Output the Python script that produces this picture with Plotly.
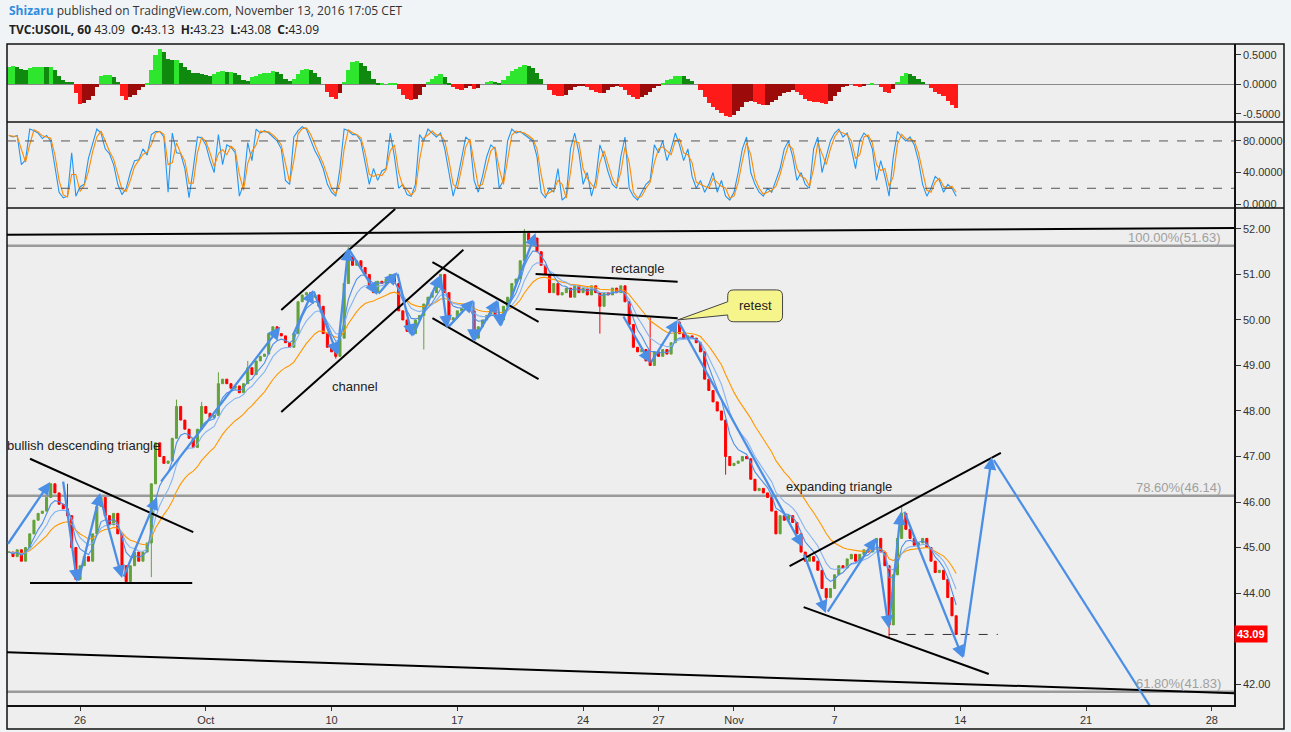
import pandas as pd
import plotly.graph_objects as go

# x axis is in trading days counted from Mon Sep 26 (weekends skipped), 4h bars
bar_start = -17 / 6
bar_step = 1 / 6

close = [
    44.90, 44.80, 44.95, 44.70, 45.00, 45.30, 45.60, 45.75, 45.80, 46.10,
    46.40, 46.20, 45.95, 45.85, 45.70, 45.00, 44.30, 44.60, 44.80, 44.70,
    45.30, 45.90, 46.10, 45.70, 45.50, 45.75, 45.30, 44.60, 44.25, 44.60,
    44.90, 44.70, 44.90, 45.10, 46.40, 47.30, 47.00, 46.85, 46.90, 47.40,
    48.10, 47.80, 47.60, 47.40, 47.20, 47.60, 48.10, 47.95, 47.85, 47.90,
    48.60, 48.70, 48.60, 48.50, 48.55, 48.40, 48.60, 48.95, 48.80, 49.10,
    49.20, 49.25, 49.70, 49.85, 49.70, 49.65, 49.50, 49.40, 49.70, 50.40,
    50.55, 50.60, 50.50, 50.55, 50.30, 49.70, 49.40, 49.30, 49.20, 49.60,
    50.80, 51.40, 51.20, 51.30, 51.15, 51.00, 50.70, 50.60, 50.85, 50.80,
    50.90, 51.00, 50.80, 50.20, 50.00, 49.75, 49.70, 50.00, 50.10, 50.35,
    50.50, 50.60, 50.80, 51.00, 50.60, 50.00, 50.05, 50.20, 50.25, 50.30,
    50.20, 49.60, 49.85, 50.00, 50.10, 50.25, 50.10, 50.00, 50.30, 50.50,
    50.80, 50.90, 51.30, 51.90, 51.75, 51.80, 51.50, 51.20, 51.00, 50.60,
    50.80, 50.55, 50.60, 50.70, 50.50, 50.75, 50.60, 50.70, 50.55, 50.75,
    50.60, 50.30, 50.60, 50.55, 50.70, 50.60, 50.75, 50.40, 49.90, 49.40,
    49.30, 49.35, 49.10, 49.00, 49.30, 49.20, 49.35, 49.25, 49.50, 49.95,
    49.70, 49.60, 49.65, 49.60, 49.50, 49.30, 48.70, 48.45, 48.20, 48.00,
    47.80, 47.00, 46.80, 46.85, 46.90, 47.00, 46.95, 46.50, 46.25, 46.30,
    46.20, 46.10, 45.80, 45.30, 45.70, 45.60, 45.70, 45.55, 45.30, 44.90,
    44.70, 44.80, 44.70, 44.50, 44.10, 43.90, 44.10, 44.40, 44.60, 44.55,
    44.75, 44.85, 44.70, 44.85, 44.95, 44.90, 45.10, 45.20, 44.90, 44.60,
    43.30, 44.40, 45.20, 45.75, 45.40, 45.20, 45.05, 45.10, 45.20, 45.00,
    44.70, 44.45, 44.50, 44.30, 43.90, 43.50, 43.09,
]

# visible wick extremes of single bars (bar index -> price)
wick_high = {14: 46.40, 40: 48.25, 46: 48.20, 50: 48.85, 57: 49.10, 81: 51.60,
             123: 52.00, 153: 50.05, 213: 45.90}
wick_low = {34: 44.35, 78: 49.15, 99: 49.35, 141: 49.70, 171: 46.60, 195: 43.80, 210: 43.00}

macd_hist = [
    0.30, 0.31, 0.30, 0.27, 0.25, 0.28, 0.30, 0.30, 0.30, 0.29,
    0.30, 0.24, 0.15, 0.08, 0.05, 0.04, -0.15, -0.33, -0.31, -0.27,
    -0.20, -0.05, 0.15, 0.16, 0.16, 0.13, 0.05, -0.20, -0.27, -0.22,
    -0.17, -0.10, -0.04, 0.02, 0.25, 0.50, 0.60, 0.55, 0.43, 0.41,
    0.42, 0.36, 0.30, 0.24, 0.20, 0.19, 0.18, 0.16, 0.15, 0.18,
    0.21, 0.22, 0.21, 0.21, 0.20, 0.16, 0.07, 0.06, 0.12, 0.15,
    0.18, 0.19, 0.20, 0.22, 0.21, 0.17, 0.10, 0.06, 0.10, 0.18,
    0.24, 0.27, 0.24, 0.20, 0.12, 0.00, -0.12, -0.22, -0.25, -0.15,
    0.05, 0.25, 0.38, 0.40, 0.37, 0.32, 0.22, 0.10, 0.01, 0.01,
    0.00, 0.01, 0.01, -0.08, -0.18, -0.25, -0.27, -0.24, -0.17, -0.05,
    0.05, 0.10, 0.15, 0.18, 0.12, 0.02, -0.05, -0.08, -0.10, -0.06,
    -0.03, -0.08, -0.06, 0.00, 0.04, 0.06, 0.04, 0.03, 0.08, 0.15,
    0.22, 0.27, 0.30, 0.33, 0.32, 0.28, 0.20, 0.10, 0.00, -0.10,
    -0.17, -0.20, -0.20, -0.17, -0.10, -0.05, -0.03, -0.02, -0.05, -0.10,
    -0.12, -0.15, -0.14, -0.10, -0.05, -0.03, -0.05, -0.10, -0.18, -0.22,
    -0.24, -0.22, -0.18, -0.12, -0.06, -0.02, 0.03, 0.07, 0.10, 0.14,
    0.15, 0.14, 0.10, 0.06, 0.00, -0.10, -0.22, -0.32, -0.38, -0.43,
    -0.48, -0.53, -0.55, -0.52, -0.45, -0.38, -0.30, -0.28, -0.30, -0.33,
    -0.35, -0.34, -0.30, -0.26, -0.20, -0.15, -0.12, -0.10, -0.12, -0.18,
    -0.24, -0.28, -0.30, -0.30, -0.32, -0.33, -0.28, -0.20, -0.12, -0.05,
    -0.02, 0.00, -0.02, -0.04, -0.02, 0.00, 0.02, 0.00, -0.05, -0.12,
    -0.15, -0.08, 0.05, 0.15, 0.20, 0.18, 0.15, 0.10, 0.05, 0.00,
    -0.06, -0.12, -0.16, -0.20, -0.28, -0.35, -0.40,
]

stoch_k = [
    87, 85, 87, 50, 56, 95, 93, 90, 83, 87,
    80, 45, 15, 8, 10, 65, 10, 22, 25, 58,
    75, 95, 90, 70, 64, 50, 25, 12, 20, 40,
    55, 56, 70, 62, 88, 92, 92, 85, 15, 90,
    65, 64, 45, 8, 45, 85, 84, 75, 55, 40,
    88, 50, 75, 72, 65, 10, 25, 78, 55, 95,
    90, 93, 90, 85, 80, 70, 30, 25, 85, 93,
    98, 95, 82, 68, 58, 45, 25, 15, 10, 45,
    95, 93, 88, 88, 80, 50, 25, 45, 30, 42,
    45, 90, 60, 20, 25, 12, 10, 25, 88, 80,
    95, 90, 85, 90, 70, 40, 10, 30, 60, 85,
    80, 30, 15, 35, 60, 75, 70, 20, 30, 80,
    95, 90, 92, 88, 85, 80, 60, 15, 8, 20,
    15, 45, 5, 10, 70, 90, 65, 25, 40, 10,
    30, 75, 60, 40, 25, 20, 60, 85, 20, 10,
    5, 15, 25, 30, 75, 65, 80, 55, 70, 90,
    75, 55, 70, 35, 20, 30, 15, 25, 40, 15,
    30, 10, 5, 15, 40, 70, 85, 40, 25, 15,
    10, 20, 15, 30, 45, 70, 80, 60, 30, 40,
    25, 20, 70, 85, 40, 60, 80, 90, 95, 85,
    90, 70, 45, 80, 90, 85, 70, 30, 55, 35,
    10, 60, 92, 85, 80, 85, 75, 55, 25, 10,
    20, 35, 30, 15, 25, 20, 10,
]

x_ticks = [0, 5, 10, 15, 20, 23, 26, 30, 35, 40, 45]
x_labels = ["26", "Oct", "10", "17", "24", "27", "Nov", "7", "14", "21", "28"]
price_ticks = [42, 44, 45, 46, 47, 48, 49, 50, 51, 52]   # 43.00 hidden behind last-price tag

fib_levels = [51.63, 46.14, 41.83]
fib_labels = ["100.00%(51.63)", "78.60%(46.14)", "61.80%(41.83)"]

# author drawings: (day0, price0, day1, price1)
trend_lines = [
    (-2.905, 51.87, 45.92, 52.02),
    (-2.905, 42.70, 45.92, 41.80),
    (-1.99, 46.95, 4.50, 45.34),
    (-1.99, 44.22, 4.46, 44.22),
    (8.00, 50.22, 12.53, 52.44),
    (8.00, 47.98, 15.24, 51.54),
    (14.01, 51.27, 18.23, 49.96),
    (14.01, 50.04, 18.23, 48.70),
    (18.11, 51.01, 23.76, 50.84),
    (18.11, 50.24, 23.76, 50.04),
    (28.21, 44.59, 36.61, 47.08),
    (28.77, 43.69, 36.13, 42.22),
]

arrows = [
    (-2.905, 45.05, -1.19, 46.44),
    (-0.68, 46.48, -0.12, 44.24),
    (-0.08, 44.24, 0.80, 46.20),
    (0.80, 46.11, 1.67, 44.33),
    (1.71, 44.33, 3.06, 46.11),
    (3.18, 46.42, 7.96, 49.85),
    (8.44, 49.63, 9.27, 50.66),
    (9.27, 50.66, 10.23, 49.23),
    (10.23, 49.23, 10.66, 51.58),
    (10.66, 51.58, 11.82, 50.55),
    (11.82, 50.55, 12.61, 51.05),
    (12.61, 51.05, 13.21, 49.63),
    (13.21, 49.63, 14.33, 50.99),
    (14.33, 50.99, 14.60, 49.82),
    (14.60, 49.82, 15.64, 50.44),
    (15.64, 50.44, 15.64, 49.52),
    (15.64, 49.52, 16.59, 50.44),
    (16.59, 50.44, 16.71, 49.85),
    (16.71, 49.85, 18.11, 51.91),
    (21.57, 50.11, 22.68, 49.05),
    (22.68, 49.05, 23.76, 50.00),
    (23.76, 50.00, 28.73, 45.01),
    (28.77, 44.88, 29.65, 43.56),
    (29.69, 43.56, 31.64, 45.21),
    (31.64, 45.21, 32.15, 43.23),
    (32.15, 43.23, 32.63, 45.78),
    (32.75, 45.82, 35.10, 42.57),
    (35.10, 42.57, 36.25, 46.99),
]
projection = (36.33, 46.92, 42.89, 41.21)

labels = [
    ("bullish descending triangle", -2.88, 47.25, "left"),
    ("channel", 10.94, 48.53, "center"),
    ("rectangle", 22.17, 51.14, "center"),
    ("expanding triangle", 30.16, 46.35, "center"),
]

last_price = 43.09
last_line = (32.15, 36.49)

# ---------------------------------------------------------------
ARROW = "#4a8ee6"
UP, DOWN = "#63a23a", "#ff0000"
FONT = "Liberation Sans, Arial, sans-serif"

xs = [bar_start + i * bar_step for i in range(len(close))]
opens = [close[0]] + close[:-1]
highs = [max(o, c, wick_high.get(i, 0)) for i, (o, c) in enumerate(zip(opens, close))]
lows = [min(o, c, wick_low.get(i, 99)) for i, (o, c) in enumerate(zip(opens, close))]

s = pd.Series(close)
ma_fast = s.ewm(span=5, adjust=False).mean()
ma_mid = s.ewm(span=9, adjust=False).mean()
ma_slow = s.ewm(span=18, adjust=False).mean()
stoch_d = pd.Series(stoch_k).rolling(2, min_periods=1).mean()

hist_colors = []
for i, v in enumerate(macd_hist):
    prev = macd_hist[i - 1] if i else v
    if v >= 0:
        hist_colors.append("#2ee62e" if v >= prev else "#0f8a0f")
    else:
        hist_colors.append("#ff1a1a" if v <= prev else "#9c0a0a")

fig = go.Figure()

fig.add_trace(go.Bar(
    x=xs, y=macd_hist, width=bar_step, marker=dict(color=hist_colors, line_width=0),
    xaxis="x3", yaxis="y3", hoverinfo="skip",
))

fig.add_trace(go.Scatter(x=xs, y=stoch_k, mode="lines", line=dict(color="#2196f3", width=1.1),
                         xaxis="x2", yaxis="y2", hoverinfo="skip"))
fig.add_trace(go.Scatter(x=xs, y=stoch_d, mode="lines", line=dict(color="#ff8a00", width=1.1),
                         xaxis="x2", yaxis="y2", hoverinfo="skip"))

fig.add_trace(go.Candlestick(
    x=xs, open=opens, high=highs, low=lows, close=close,
    increasing=dict(line=dict(color=UP, width=1), fillcolor=UP),
    decreasing=dict(line=dict(color=DOWN, width=1), fillcolor=DOWN),
    whiskerwidth=0, hoverinfo="skip",
))
fig.add_trace(go.Scatter(x=xs, y=ma_slow, mode="lines", line=dict(color="#ff9800", width=1.1), hoverinfo="skip"))
fig.add_trace(go.Scatter(x=xs, y=ma_mid, mode="lines", line=dict(color="#84b4f2", width=1.1), hoverinfo="skip"))
fig.add_trace(go.Scatter(x=xs, y=ma_fast, mode="lines", line=dict(color="#4d8ee8", width=1.1), hoverinfo="skip"))

shapes = []
Y0, X1 = -24 / 661, 1277 / 1227
# panel background + outer frame
shapes.append(dict(type="rect", xref="paper", yref="paper", x0=0, x1=X1, y0=Y0, y1=1,
                   fillcolor="#eeeeee", line_width=0, layer="below"))
shapes.append(dict(type="rect", xref="paper", yref="paper", x0=0, x1=X1, y0=Y0, y1=1,
                   line=dict(color="#111", width=1.5)))
for yy in (497 / 661, 583 / 661):
    shapes.append(dict(type="line", xref="paper", yref="paper", x0=0, x1=X1, y0=yy, y1=yy,
                       line=dict(color="#111", width=1.5)))

for lvl in (80, 20):
    shapes.append(dict(type="line", xref="paper", yref="y2", x0=0, x1=1, y0=lvl, y1=lvl,
                       line=dict(color="#555", width=1, dash="dash")))

for lvl in fib_levels:
    shapes.append(dict(type="line", xref="paper", yref="y", x0=0, x1=1, y0=lvl, y1=lvl,
                       line=dict(color="#9a9a9a", width=2.5), layer="below"))

for d0, p0, d1, p1 in trend_lines:
    shapes.append(dict(type="line", xref="x", yref="y", x0=d0, y0=p0, x1=d1, y1=p1,
                       line=dict(color="#000", width=2)))

d0, p0, d1, p1 = projection
shapes.append(dict(type="line", xref="x", yref="y", x0=d0, y0=p0, x1=d1, y1=p1,
                   line=dict(color=ARROW, width=2.2)))

shapes.append(dict(type="line", xref="x", yref="y", x0=last_line[0], x1=last_line[1],
                   y0=last_price, y1=last_price, line=dict(color="#333", width=1, dash="dash")))

# "retest" callout bubble
bx0, bx1, byt, byb = 25.75, 27.93, 50.66, 49.96
rx, ry = 0.24, 0.13
tip = (23.76, 50.00)
callout = (
    f"M {tip[0]},{tip[1]} L {bx0},50.40 L {bx0},{byt - ry} Q {bx0},{byt} {bx0 + rx},{byt} "
    f"L {bx1 - rx},{byt} Q {bx1},{byt} {bx1},{byt - ry} L {bx1},{byb + ry} "
    f"Q {bx1},{byb} {bx1 - rx},{byb} L {bx0 + rx},{byb} Q {bx0},{byb} {bx0},{byb + ry} "
    f"L {bx0},50.11 Z"
)
shapes.append(dict(type="path", xref="x", yref="y", path=callout, fillcolor="#f6f58c",
                   line=dict(color="#444", width=1)))

annotations = []
for t0, tp, h0, hp in arrows:
    annotations.append(dict(x=h0, y=hp, ax=t0, ay=tp, xref="x", yref="y", axref="x", ayref="y",
                            text="", showarrow=True, arrowhead=2, arrowsize=1.1,
                            arrowwidth=2.3, arrowcolor=ARROW, standoff=0, startstandoff=0))

for txt, d, p, anchor in labels:
    annotations.append(dict(x=d, y=p, xref="x", yref="y", text=txt, showarrow=False,
                            xanchor=anchor, xshift=-3 if anchor == "left" else 0,
                            font=dict(family=FONT, size=13, color="#222")))
annotations.append(dict(x=(bx0 + bx1) / 2, y=(byt + byb) / 2, xref="x", yref="y", text="retest",
                        showarrow=False, font=dict(family=FONT, size=13, color="#222")))

for lvl, txt in zip(fib_levels, fib_labels):
    annotations.append(dict(x=45.44, y=lvl, xref="x", yref="y", text=txt, showarrow=False,
                            xanchor="right", yanchor="bottom", yshift=-1,
                            font=dict(family=FONT, size=13, color="#a0a0a0")))

annotations.append(dict(x=1, y=last_price, xref="paper", yref="y", text=f"<b>{last_price:.2f}</b>",
                        showarrow=False, xanchor="left", bgcolor="#ff0000", borderpad=2,
                        font=dict(family=FONT, size=11, color="#fff")))

annotations.append(dict(
    x=0, y=1 + 33 / 661, xref="paper", yref="paper", xanchor="left", yanchor="middle",
    showarrow=False,
    text="<span style='color:#2d8ce0'><b>Shizaru</b></span> published on TradingView.com, "
         "November 13, 2016 17:05 CET",
    font=dict(family="Open Sans, sans-serif", size=12, color="#333")))
annotations.append(dict(
    x=0, y=1 + 15 / 661, xref="paper", yref="paper", xanchor="left", yanchor="middle",
    showarrow=False,
    text="<b>TVC:USOIL, 60</b> 43.09  <b>O:</b>43.13  <b>H:</b>43.23  <b>L:</b>43.08  <b>C:</b>43.09",
    font=dict(family="Open Sans, sans-serif", size=12, color="#222")))

yax = dict(side="right", ticks="outside", ticklen=5, tickcolor="#333", showgrid=False,
           zeroline=False, showline=True, linecolor="#111", linewidth=1.5,
           tickfont=dict(family=FONT, size=11, color="#333"))

fig.update_layout(
    width=1291, height=732,
    margin=dict(l=7, r=57, t=44, b=27),
    paper_bgcolor="#f1f4f7", plot_bgcolor="#eeeeee",
    showlegend=False, bargap=0,
    font=dict(family=FONT, size=11, color="#333"),
    xaxis=dict(domain=[0, 1], range=[-2.905, 45.88], anchor="y", tickvals=x_ticks, ticktext=x_labels,
               ticks="outside", ticklen=4, tickcolor="#333", showgrid=False, zeroline=False,
               showline=True, linecolor="#111", linewidth=1.5, rangeslider=dict(visible=False),
               tickfont=dict(family=FONT, size=11, color="#333")),
    xaxis2=dict(matches="x", anchor="y2", visible=False),
    xaxis3=dict(matches="x", anchor="y3", visible=False),
    yaxis=dict(domain=[0, 497 / 661], range=[41.54, 52.46], tickvals=price_ticks,
               ticktext=[f"{v:.2f}" for v in price_ticks], **yax),
    yaxis2=dict(domain=[497 / 661, 583 / 661], range=[-5, 104], anchor="x2", tickvals=[0, 40, 80],
                ticktext=["0.0000", "40.0000", "80.0000"], **yax),
    yaxis3=dict(domain=[583 / 661, 1], range=[-0.636, 0.686], anchor="x3", tickvals=[-0.5, 0, 0.5],
                ticktext=["-0.5000", "0.0000", "0.5000"], **yax),
    shapes=shapes,
    annotations=annotations,
)
fig.update_yaxes(selector=dict(anchor="x3"), zeroline=True, zerolinecolor="#888", zerolinewidth=1)

fig.write_html("out.html", config={"displayModeBar": False},
               post_script="document.body.style.margin='0';document.body.style.overflow='hidden';")
